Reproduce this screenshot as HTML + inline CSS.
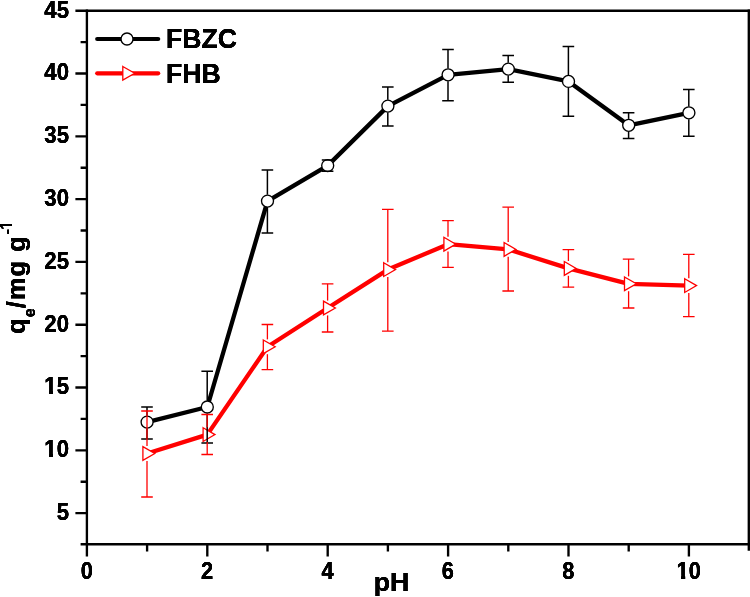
<!DOCTYPE html>
<html><head><meta charset="utf-8"><title>pH effect</title>
<style>html,body{margin:0;padding:0;background:#fff}svg{display:block}text{font-family:'Liberation Sans', sans-serif;font-weight:bold;fill:#000}.b{filter:drop-shadow(0.4px 0 0 #000) drop-shadow(0 0.4px 0 #000)}</style></head><body>
<svg width="750" height="597" viewBox="0 0 750 597">
<rect width="750" height="597" fill="#fff"/>
<g id="black-series">
<polyline points="147.10,422.10 207.30,407.00 267.50,201.10 327.70,165.60 387.90,106.10 448.10,74.80 508.30,69.10 568.50,81.40 628.70,125.30 688.90,112.80" fill="none" stroke="#000" stroke-width="4.3" stroke-linejoin="round" stroke-linecap="butt"/>
<circle cx="147.10" cy="422.10" r="6.0" fill="#fff" stroke="#000" stroke-width="1.35"/>
<circle cx="207.30" cy="407.00" r="6.0" fill="#fff" stroke="#000" stroke-width="1.35"/>
<circle cx="267.50" cy="201.10" r="6.0" fill="#fff" stroke="#000" stroke-width="1.35"/>
<circle cx="327.70" cy="165.60" r="6.0" fill="#fff" stroke="#000" stroke-width="1.35"/>
<circle cx="387.90" cy="106.10" r="6.0" fill="#fff" stroke="#000" stroke-width="1.35"/>
<circle cx="448.10" cy="74.80" r="6.0" fill="#fff" stroke="#000" stroke-width="1.35"/>
<circle cx="508.30" cy="69.10" r="6.0" fill="#fff" stroke="#000" stroke-width="1.35"/>
<circle cx="568.50" cy="81.40" r="6.0" fill="#fff" stroke="#000" stroke-width="1.35"/>
<circle cx="628.70" cy="125.30" r="6.0" fill="#fff" stroke="#000" stroke-width="1.35"/>
<circle cx="688.90" cy="112.80" r="6.0" fill="#fff" stroke="#000" stroke-width="1.35"/>
</g>
<g id="red-series">
<polyline points="147.10,453.50 207.30,434.60 267.50,346.80 327.70,308.00 387.90,269.60 448.10,244.15 508.30,249.40 568.50,268.40 628.70,283.80 688.90,285.60" fill="none" stroke="#ff0000" stroke-width="4.3" stroke-linejoin="round" stroke-linecap="butt"/>
<path d="M142.90,446.65 L154.76,453.50 L142.90,460.35 Z" fill="#fff" stroke="#ff0000" stroke-width="1.3" stroke-linejoin="miter"/>
<path d="M203.10,427.75 L214.96,434.60 L203.10,441.45 Z" fill="#fff" stroke="#ff0000" stroke-width="1.3" stroke-linejoin="miter"/>
<path d="M263.30,339.95 L275.16,346.80 L263.30,353.65 Z" fill="#fff" stroke="#ff0000" stroke-width="1.3" stroke-linejoin="miter"/>
<path d="M323.50,301.15 L335.36,308.00 L323.50,314.85 Z" fill="#fff" stroke="#ff0000" stroke-width="1.3" stroke-linejoin="miter"/>
<path d="M383.70,262.75 L395.56,269.60 L383.70,276.45 Z" fill="#fff" stroke="#ff0000" stroke-width="1.3" stroke-linejoin="miter"/>
<path d="M443.90,237.30 L455.76,244.15 L443.90,251.00 Z" fill="#fff" stroke="#ff0000" stroke-width="1.3" stroke-linejoin="miter"/>
<path d="M504.10,242.55 L515.96,249.40 L504.10,256.25 Z" fill="#fff" stroke="#ff0000" stroke-width="1.3" stroke-linejoin="miter"/>
<path d="M564.30,261.55 L576.16,268.40 L564.30,275.25 Z" fill="#fff" stroke="#ff0000" stroke-width="1.3" stroke-linejoin="miter"/>
<path d="M624.50,276.95 L636.36,283.80 L624.50,290.65 Z" fill="#fff" stroke="#ff0000" stroke-width="1.3" stroke-linejoin="miter"/>
<path d="M684.70,278.75 L696.56,285.60 L684.70,292.45 Z" fill="#fff" stroke="#ff0000" stroke-width="1.3" stroke-linejoin="miter"/>
</g>
<g id="black-err">
<path d="M141.20,407.00H152.80M141.20,438.90H152.80" stroke="#000" stroke-width="1.5" fill="none"/><path d="M147.00,407.00V415.73" stroke="#000" stroke-width="1.5" fill="none"/><path d="M147.00,428.48V438.90" stroke="#000" stroke-width="1.5" fill="none"/>
<path d="M201.40,371.30H213.00M201.40,442.90H213.00" stroke="#000" stroke-width="1.5" fill="none"/><path d="M207.20,371.30V400.62" stroke="#000" stroke-width="1.5" fill="none"/><path d="M207.20,413.38V442.90" stroke="#000" stroke-width="1.5" fill="none"/>
<path d="M261.60,170.10H273.20M261.60,233.00H273.20" stroke="#000" stroke-width="1.5" fill="none"/><path d="M267.40,170.10V194.72" stroke="#000" stroke-width="1.5" fill="none"/><path d="M267.40,207.47V233.00" stroke="#000" stroke-width="1.5" fill="none"/>
<path d="M321.80,160.00H333.40M321.80,171.30H333.40" stroke="#000" stroke-width="1.5" fill="none"/>
<path d="M382.00,87.10H393.60M382.00,126.00H393.60" stroke="#000" stroke-width="1.5" fill="none"/><path d="M387.80,87.10V99.72" stroke="#000" stroke-width="1.5" fill="none"/><path d="M387.80,112.47V126.00" stroke="#000" stroke-width="1.5" fill="none"/>
<path d="M442.20,49.40H453.80M442.20,100.80H453.80" stroke="#000" stroke-width="1.5" fill="none"/><path d="M448.00,49.40V68.42" stroke="#000" stroke-width="1.5" fill="none"/><path d="M448.00,81.17V100.80" stroke="#000" stroke-width="1.5" fill="none"/>
<path d="M502.40,55.40H514.00M502.40,82.20H514.00" stroke="#000" stroke-width="1.5" fill="none"/><path d="M508.20,55.40V62.72" stroke="#000" stroke-width="1.5" fill="none"/><path d="M508.20,75.47V82.20" stroke="#000" stroke-width="1.5" fill="none"/>
<path d="M562.60,46.60H574.20M562.60,116.30H574.20" stroke="#000" stroke-width="1.5" fill="none"/><path d="M568.40,46.60V75.03" stroke="#000" stroke-width="1.5" fill="none"/><path d="M568.40,87.78V116.30" stroke="#000" stroke-width="1.5" fill="none"/>
<path d="M622.80,112.80H634.40M622.80,138.40H634.40" stroke="#000" stroke-width="1.5" fill="none"/><path d="M628.60,112.80V118.92" stroke="#000" stroke-width="1.5" fill="none"/><path d="M628.60,131.68V138.40" stroke="#000" stroke-width="1.5" fill="none"/>
<path d="M683.00,89.40H694.60M683.00,136.20H694.60" stroke="#000" stroke-width="1.5" fill="none"/><path d="M688.80,89.40V106.42" stroke="#000" stroke-width="1.5" fill="none"/><path d="M688.80,119.17V136.20" stroke="#000" stroke-width="1.5" fill="none"/>
</g>
<g id="red-err">
<path d="M141.20,411.00H152.80M141.20,497.00H152.80" stroke="#ff0000" stroke-width="1.3" fill="none"/><path d="M147.00,411.00V446.10" stroke="#ff0000" stroke-width="1.3" fill="none"/><path d="M147.00,460.90V497.00" stroke="#ff0000" stroke-width="1.3" fill="none"/>
<path d="M201.40,414.50H213.00M201.40,454.50H213.00" stroke="#ff0000" stroke-width="1.3" fill="none"/><path d="M207.20,414.50V427.20" stroke="#ff0000" stroke-width="1.3" fill="none"/><path d="M207.20,442.00V454.50" stroke="#ff0000" stroke-width="1.3" fill="none"/>
<path d="M261.60,324.50H273.20M261.60,369.70H273.20" stroke="#ff0000" stroke-width="1.3" fill="none"/><path d="M267.40,324.50V339.40" stroke="#ff0000" stroke-width="1.3" fill="none"/><path d="M267.40,354.20V369.70" stroke="#ff0000" stroke-width="1.3" fill="none"/>
<path d="M321.80,283.90H333.40M321.80,332.00H333.40" stroke="#ff0000" stroke-width="1.3" fill="none"/><path d="M327.60,283.90V300.60" stroke="#ff0000" stroke-width="1.3" fill="none"/><path d="M327.60,315.40V332.00" stroke="#ff0000" stroke-width="1.3" fill="none"/>
<path d="M382.00,209.30H393.60M382.00,331.10H393.60" stroke="#ff0000" stroke-width="1.3" fill="none"/><path d="M387.80,209.30V262.20" stroke="#ff0000" stroke-width="1.3" fill="none"/><path d="M387.80,277.00V331.10" stroke="#ff0000" stroke-width="1.3" fill="none"/>
<path d="M442.20,220.60H453.80M442.20,267.30H453.80" stroke="#ff0000" stroke-width="1.3" fill="none"/><path d="M448.00,220.60V236.75" stroke="#ff0000" stroke-width="1.3" fill="none"/><path d="M448.00,251.55V267.30" stroke="#ff0000" stroke-width="1.3" fill="none"/>
<path d="M502.40,207.20H514.00M502.40,291.00H514.00" stroke="#ff0000" stroke-width="1.3" fill="none"/><path d="M508.20,207.20V242.00" stroke="#ff0000" stroke-width="1.3" fill="none"/><path d="M508.20,256.80V291.00" stroke="#ff0000" stroke-width="1.3" fill="none"/>
<path d="M562.60,249.60H574.20M562.60,287.20H574.20" stroke="#ff0000" stroke-width="1.3" fill="none"/><path d="M568.40,249.60V261.00" stroke="#ff0000" stroke-width="1.3" fill="none"/><path d="M568.40,275.80V287.20" stroke="#ff0000" stroke-width="1.3" fill="none"/>
<path d="M622.80,259.10H634.40M622.80,308.00H634.40" stroke="#ff0000" stroke-width="1.3" fill="none"/><path d="M628.60,259.10V276.40" stroke="#ff0000" stroke-width="1.3" fill="none"/><path d="M628.60,291.20V308.00" stroke="#ff0000" stroke-width="1.3" fill="none"/>
<path d="M683.00,254.30H694.60M683.00,316.60H694.60" stroke="#ff0000" stroke-width="1.3" fill="none"/><path d="M688.80,254.30V278.20" stroke="#ff0000" stroke-width="1.3" fill="none"/><path d="M688.80,293.00V316.60" stroke="#ff0000" stroke-width="1.3" fill="none"/>
</g>
<g id="axes" stroke="#000" stroke-width="2.35" fill="none" stroke-linecap="butt">
<path d="M86.90,9.52V556.40"/>
<path d="M75.40,10.70H750.80"/>
<path d="M80.60,544.20H750.80"/>
<path d="M748.80,9.52V550.80"/>
<path d="M75.40,513.10H86.90M80.60,481.70H86.90M75.40,450.30H86.90M80.60,418.90H86.90M75.40,387.50H86.90M80.60,356.10H86.90M75.40,324.70H86.90M80.60,293.30H86.90M75.40,261.90H86.90M80.60,230.50H86.90M75.40,199.10H86.90M80.60,167.70H86.90M75.40,136.30H86.90M80.60,104.90H86.90M75.40,73.50H86.90M80.60,42.10H86.90"/>
<path d="M147.10,544.20V551.40M207.30,544.20V556.40M267.50,544.20V551.40M327.70,544.20V556.40M387.90,544.20V551.40M448.10,544.20V556.40M508.30,544.20V551.40M568.50,544.20V556.40M628.70,544.20V551.40M688.90,544.20V556.40"/>
</g>
<defs><clipPath id="c1e"><rect x="-45.03" y="-27.00" width="80" height="23.75"/><rect x="-20.23" y="-3.75" width="3.99" height="5.25"/><rect x="-12.36" y="-3.75" width="60" height="9.00"/></clipPath><clipPath id="c1m"><rect x="-32.51" y="-27.00" width="80" height="23.75"/><rect x="-7.71" y="-3.75" width="3.99" height="5.25"/><rect x="0.15" y="-3.75" width="60" height="9.00"/></clipPath><clipPath id="c1s"><rect x="-20.00" y="-18.00" width="80" height="15.52"/><rect x="3.45" y="-2.98" width="2.16" height="4.48"/><rect x="8.49" y="-2.98" width="60" height="6.00"/></clipPath></defs>
<g id="ylabels" class="b" font-size="22.5" text-anchor="end">
<text transform="translate(69.0,519.90) scale(0.985,1.07)">5</text>
<text transform="translate(69.0,457.10) scale(0.985,1.07)" clip-path="url(#c1e)">10</text>
<text transform="translate(69.0,394.30) scale(0.985,1.07)" clip-path="url(#c1e)">15</text>
<text transform="translate(69.0,331.50) scale(0.985,1.07)">20</text>
<text transform="translate(69.0,268.70) scale(0.985,1.07)">25</text>
<text transform="translate(69.0,205.90) scale(0.985,1.07)">30</text>
<text transform="translate(69.0,143.10) scale(0.985,1.07)">35</text>
<text transform="translate(69.0,80.30) scale(0.985,1.07)">40</text>
<text transform="translate(69.0,17.50) scale(0.985,1.07)">45</text>
</g>
<g id="xlabels" class="b" font-size="22.5" text-anchor="middle">
<text transform="translate(86.70,578.9) scale(0.97,1.03)">0</text>
<text transform="translate(207.10,578.9) scale(0.97,1.03)">2</text>
<text transform="translate(327.50,578.9) scale(0.97,1.03)">4</text>
<text transform="translate(447.90,578.9) scale(0.97,1.03)">6</text>
<text transform="translate(568.30,578.9) scale(0.97,1.03)">8</text>
<text transform="translate(688.70,578.9) scale(0.97,1.03)" clip-path="url(#c1m)">10</text>
</g>
<g id="titles" class="b">
<text transform="translate(373.8,591.1) scale(1,1.0)" font-size="26.7">pH</text>
<text transform="translate(25.00,333.95) rotate(-90)" font-size="25.5">q</text>
<text transform="translate(34.80,317.20) rotate(-90)" font-size="16.0">e</text>
<text transform="translate(25.00,308.20) rotate(-90)" font-size="25.5" letter-spacing="1.0">/mg g</text>
<text transform="translate(11.80,234.20) rotate(-90)" font-size="15">-</text>
<text transform="translate(12.00,229.55) rotate(-90) scale(1,1.14)" font-size="15" clip-path="url(#c1s)">1</text>
</g>
<g id="legend">
<path d="M97.2,39H158.2" stroke="#000" stroke-width="4.2" stroke-linecap="round"/>
<circle cx="127" cy="39" r="6.0" fill="#fff" stroke="#000" stroke-width="1.35"/>
<path d="M97.2,73.3H158.2" stroke="#ff0000" stroke-width="4.2" stroke-linecap="round"/>
<path d="M122.80,66.45 L134.66,73.30 L122.80,80.15 Z" fill="#fff" stroke="#ff0000" stroke-width="1.3"/>
<g class="b"><text transform="translate(166.1,48.1) scale(1,1.03)" font-size="26.6">FBZC</text>
<text transform="translate(166.1,82.5) scale(1,1.03)" font-size="26.6">FHB</text></g>
</g>
</svg></body></html>
